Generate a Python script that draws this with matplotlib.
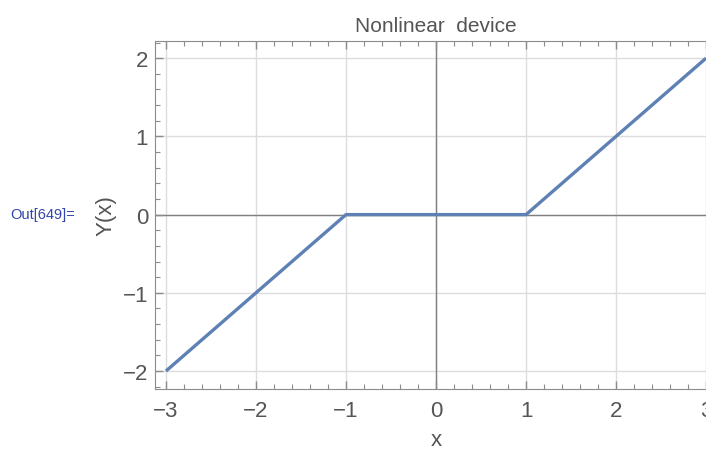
import matplotlib
matplotlib.use('Agg')
import matplotlib.pyplot as plt
from matplotlib.ticker import MultipleLocator

# breakpoints of the nonlinear device
x = [-3, -1, 1, 3]
y = [-2, 0, 0, 2]
xticks = [-3, -2, -1, 0, 1, 2, 3]
yticks = [-2, -1, 0, 1, 2]

plt.rcParams['font.family'] = ['Liberation Sans', 'DejaVu Sans']
gray = '#555555'

fig = plt.figure(figsize=(7.06, 4.52), dpi=100)
# axes extends past the right edge like the original screenshot
ax = fig.add_axes([155/706, 62/452, 562/706, 348/452])

ax.plot(x, y, color='#5E81B5', lw=2.4, solid_capstyle='butt', zorder=3)

ax.set_xlim(-3.122, 3.122)
ax.set_ylim(-2.23, 2.22)
ax.set_xticks(xticks)
ax.set_yticks(yticks)
ax.xaxis.set_minor_locator(MultipleLocator(0.2))
ax.yaxis.set_minor_locator(MultipleLocator(0.2))

for v in xticks:
    ax.axvline(v, color='#dcdcdc', lw=1, zorder=0)
for v in yticks:
    ax.axhline(v, color='#dcdcdc', lw=1, zorder=0)
ax.axhline(0, color='#808080', lw=1, zorder=1)
ax.axvline(0, color='#808080', lw=1, zorder=1)

for s in ax.spines.values():
    s.set_color('#8c8c8c')
ax.spines['right'].set_visible(False)

ax.tick_params(which='both', direction='in', top=True, bottom=True, left=True, right=False,
               colors='#8c8c8c', labelcolor=gray, labelsize=16)
ax.tick_params(which='major', length=6, width=1)
ax.tick_params(which='minor', length=3.5, width=0.8)
ax.tick_params(axis='x', labeltop=False, pad=8)
ax.tick_params(axis='y', pad=5)

ax.set_title('Nonlinear  device', color=gray, fontsize=15, pad=7)
ax.set_xlabel('x', color=gray, fontsize=16, labelpad=6)
ax.set_ylabel('Y(x)', color=gray, fontsize=16, labelpad=4)

fig.text(10/706, 1 - 215/452, 'Out[649]=', color='#3344aa', fontsize=10.5, va='center')

fig.savefig('out.png', dpi=100)
